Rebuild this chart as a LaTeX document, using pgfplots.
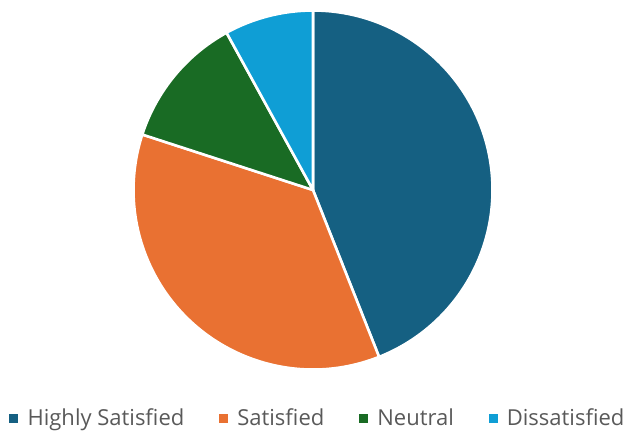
\documentclass[border=0pt]{standalone}
\usepackage{pgfplots}
\usepackage{pgfplotstable}
\pgfplotsset{compat=1.18}
\usepackage{fontspec}
\setmainfont{Open Sans}
\definecolor{cHS}{HTML}{156082}
\definecolor{cS}{HTML}{E97132}
\definecolor{cN}{HTML}{196B24}
\definecolor{cD}{HTML}{0F9ED5}
\definecolor{txt}{HTML}{595959}

\pgfplotstableread{
label value
HS 44
S 36
N 12
D 8
}\piedata
\pgfplotstablegetelem{0}{value}\of\piedata \let\vA\pgfplotsretval
\pgfplotstablegetelem{1}{value}\of\piedata \let\vB\pgfplotsretval
\pgfplotstablegetelem{2}{value}\of\piedata \let\vC\pgfplotsretval
\pgfplotstablegetelem{3}{value}\of\piedata \let\vD\pgfplotsretval
\pgfmathsetmacro{\aA}{90}
\pgfmathsetmacro{\aB}{\aA-3.6*\vA}
\pgfmathsetmacro{\aC}{\aB-3.6*\vB}
\pgfmathsetmacro{\aD}{\aC-3.6*\vC}
\pgfmathsetmacro{\aE}{\aD-3.6*\vD}
\def\R{179.5bp}

\begin{document}
\begin{tikzpicture}
\begin{axis}[
  x=1bp, y=1bp,
  xmin=-313, xmax=312, ymin=-242, ymax=190,
  hide axis, clip=false,
  legend columns=4,
  legend style={at={(axis cs:4,-228)}, anchor=center, draw=none, fill=none,
    nodes={font=\fontsize{22bp}{25bp}\selectfont, text=txt, inner sep=0pt},
    /tikz/every odd column/.append style={column sep=10bp},
    /tikz/every even column/.append style={column sep=35bp},
    inner sep=0pt},
  legend cell align=left,
]
\path (axis cs:-313,-242) rectangle (axis cs:312,190);
\filldraw[fill=cHS, draw=white, line width=2.6bp, line join=round] (axis cs:0,0) -- +(\aA:\R) arc[start angle=\aA, end angle=\aB, radius=\R] -- cycle;
\filldraw[fill=cS, draw=white, line width=2.6bp, line join=round] (axis cs:0,0) -- +(\aB:\R) arc[start angle=\aB, end angle=\aC, radius=\R] -- cycle;
\filldraw[fill=cN, draw=white, line width=2.6bp, line join=round] (axis cs:0,0) -- +(\aC:\R) arc[start angle=\aC, end angle=\aD, radius=\R] -- cycle;
\filldraw[fill=cD, draw=white, line width=2.6bp, line join=round] (axis cs:0,0) -- +(\aD:\R) arc[start angle=\aD, end angle=\aE, radius=\R] -- cycle;
\addlegendimage{only marks, mark=square*, mark size=4bp, color=cHS}
\addlegendentry{Highly Satisfied}
\addlegendimage{only marks, mark=square*, mark size=4bp, color=cS}
\addlegendentry{Satisfied}
\addlegendimage{only marks, mark=square*, mark size=4bp, color=cN}
\addlegendentry{Neutral}
\addlegendimage{only marks, mark=square*, mark size=4bp, color=cD}
\addlegendentry{Dissatisfied}
\end{axis}
\end{tikzpicture}
\end{document}
